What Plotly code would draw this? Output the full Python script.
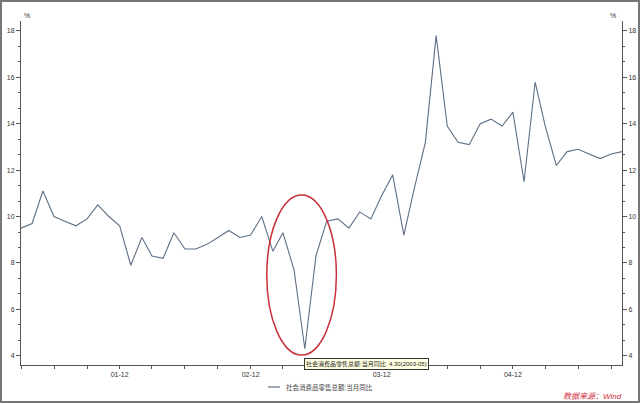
import plotly.graph_objects as go

months = ["2001-03","2001-04","2001-05","2001-06","2001-07","2001-08","2001-09","2001-10","2001-11","2001-12",
          "2002-01","2002-02","2002-03","2002-04","2002-05","2002-06","2002-07","2002-08","2002-09","2002-10","2002-11","2002-12",
          "2003-01","2003-02","2003-03","2003-04","2003-05","2003-06","2003-07","2003-08","2003-09","2003-10","2003-11","2003-12",
          "2004-01","2004-02","2004-03","2004-04","2004-05","2004-06","2004-07","2004-08","2004-09","2004-10","2004-11","2004-12",
          "2005-01","2005-02","2005-03","2005-04","2005-05","2005-06","2005-07","2005-08","2005-09","2005-10"]
retail_yoy = [9.5, 9.7, 11.1, 10.0, 9.8, 9.6, 9.9, 10.5, 10.0, 9.6,
              7.9, 9.1, 8.3, 8.2, 9.3, 8.6, 8.6, 8.8, 9.1, 9.4, 9.1, 9.2,
              10.0, 8.5, 9.3, 7.7, 4.3, 8.3, 9.8, 9.9, 9.5, 10.2, 9.9, 10.9,
              11.8, 9.2, 11.2, 13.2, 17.8, 13.9, 13.2, 13.1, 14.0, 14.2, 13.9, 14.5,
              11.5, 15.8, 13.9, 12.2, 12.8, 12.9, 12.7, 12.5, 12.7, 12.8]
tick_dates = ["2001-12-01", "2002-12-01", "2003-12-01", "2004-12-01"]
tick_labels = ["01-12", "02-12", "03-12", "04-12"]
series_name = "社会消费品零售总额:当月同比"

x_dates = [m + "-01" for m in months]
LINE = "#5d7085"
AX = "#555555"
FONT = "Liberation Sans, DejaVu Sans, Noto Sans CJK SC"

fig = go.Figure()
fig.add_trace(go.Scatter(x=x_dates, y=retail_yoy, mode="lines", name=series_name,
                         line=dict(color=LINE, width=1.1), showlegend=False))
fig.add_trace(go.Scatter(x=x_dates, y=retail_yoy, mode="lines", yaxis="y2",
                         line=dict(color="rgba(0,0,0,0)", width=0), showlegend=False, hoverinfo="skip"))

yax_common = dict(range=[3.6, 18.43], tick0=4, dtick=2, showgrid=False, zeroline=False, automargin=False,
                  showline=True, linecolor=AX, linewidth=1, ticks="outside", ticklen=4,
                  tickcolor=AX, tickfont=dict(size=7, color="#333", family=FONT),
                  minor=dict(tick0=4, dtick=2/3, ticks="outside", ticklen=2, tickcolor=AX))

fig.update_layout(
    width=640, height=404,
    margin=dict(l=21, r=18, t=21, b=39),
    paper_bgcolor="white", plot_bgcolor="white",
    font=dict(family=FONT),
    xaxis=dict(type="date", range=["2001-03-01", "2005-10-01"], tickvals=tick_dates, ticktext=tick_labels,
               showgrid=False, zeroline=False, showline=True, linecolor=AX, linewidth=1, automargin=False,
               ticks="outside", ticklen=3, tickcolor=AX,
               tickfont=dict(size=7, color="#333", family=FONT),
               minor=dict(tick0="2001-03-01", dtick="M3", ticks="outside", ticklen=3, tickcolor=AX)),
    yaxis=dict(**yax_common),
    yaxis2=dict(**yax_common, overlaying="y", side="right", anchor="x"),
)

# red ellipse highlighting the 2003 dip
fig.add_shape(type="circle", xref="x", yref="y", x0="2003-01-15", x1="2003-07-28", y0=4.03, y1=10.93,
              line=dict(color="#c8303c", width=1.5))

# border around the whole chart
fig.add_shape(type="rect", xref="paper", yref="paper",
              x0=(1-21)/601, x1=(639-21)/601, y0=(365-402)/344, y1=(365-1)/344,
              line=dict(color="#777777", width=2))

# % unit labels
fig.add_annotation(text="%", xref="paper", yref="paper", x=0.002, y=1.0, xanchor="left", yanchor="bottom",
                   showarrow=False, font=dict(size=7, color="#333"))
fig.add_annotation(text="%", xref="paper", yref="paper", x=0.993, y=1.0, xanchor="right", yanchor="bottom",
                   showarrow=False, font=dict(size=7, color="#333"))

# tooltip-like label for the minimum
fig.add_annotation(text=series_name + ": 4.30(2003-05)", xref="paper", yref="paper",
                   x=(304-21)/601, y=(365-363.5)/344, xanchor="left", yanchor="middle", showarrow=False,
                   bgcolor="#ffffe1", bordercolor="#333", borderwidth=1, borderpad=1,
                   font=dict(size=6, color="#222"))

# legend (line sample + text)
fig.add_shape(type="line", xref="paper", yref="paper",
              x0=(268-21)/601, x1=(280-21)/601, y0=(365-387)/344, y1=(365-387)/344,
              line=dict(color=LINE, width=1.2))
fig.add_annotation(text=series_name, xref="paper", yref="paper",
                   x=(284-21)/601, y=(365-387)/344, xanchor="left", yanchor="middle", showarrow=False,
                   font=dict(size=6.5, color="#444"))

# source note
fig.add_annotation(text="<i>数据来源：Wind</i>", xref="paper", yref="paper",
                   x=(624-21)/601, y=(365-396)/344, xanchor="right", yanchor="middle", showarrow=False,
                   font=dict(size=8, color="#d03040"))

fig.write_html("out.html", config={"displayModeBar": False},
               post_script="document.body.style.margin='0';")
